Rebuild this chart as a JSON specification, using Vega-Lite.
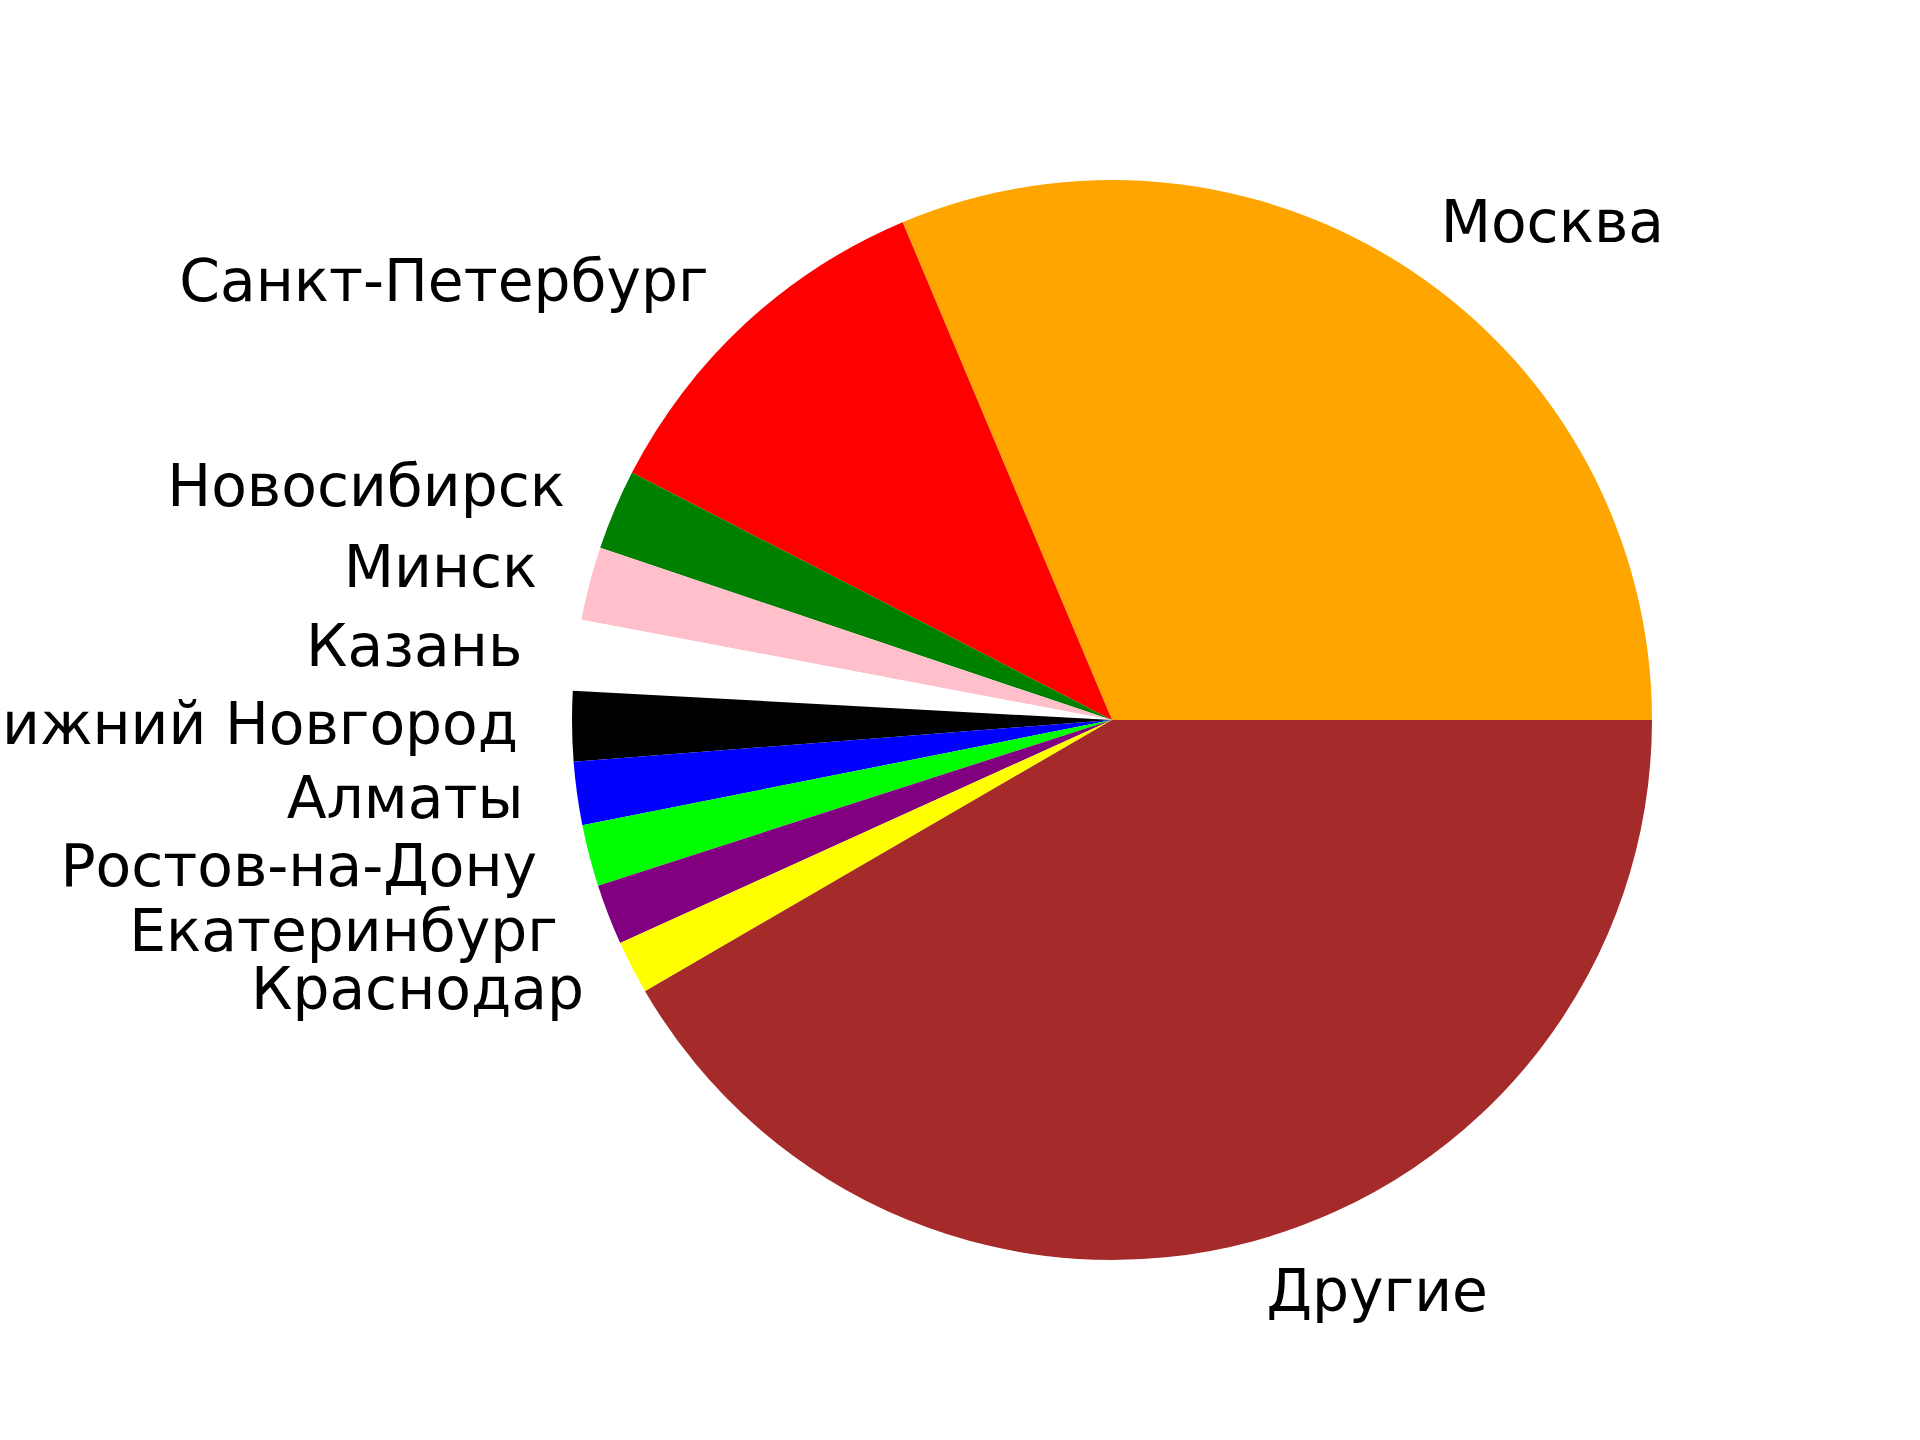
{
  "$schema": "https://vega.github.io/schema/vega-lite/v6.json",
  "width": 1618,
  "height": 1440,
  "padding": {"left": 303, "right": 0, "top": 0, "bottom": 0},
  "autosize": {"type": "none"},
  "background": "white",
  "config": {"view": {"stroke": null}},
  "data": {"values": [
    {"city": "Москва", "value": 31.34},
    {"city": "Санкт-Петербург", "value": 11.09},
    {"city": "Новосибирск", "value": 2.41},
    {"city": "Минск", "value": 2.19},
    {"city": "Казань", "value": 2.11},
    {"city": "Нижний Новгород", "value": 2.10},
    {"city": "Алматы", "value": 1.89},
    {"city": "Ростов-на-Дону", "value": 1.84},
    {"city": "Екатеринбург", "value": 1.81},
    {"city": "Краснодар", "value": 1.60},
    {"city": "Другие", "value": 41.63}
  ]},
  "transform": [{"window": [{"op": "row_number", "as": "idx"}]}],
  "encoding": {
    "theta": {"field": "value", "type": "quantitative", "stack": true,
      "scale": {"range": [1.5707963, -4.712389]}},
    "order": {"field": "idx", "type": "quantitative"}
  },
  "layer": [
    {
      "mark": {"type": "arc", "outerRadius": 540, "strokeWidth": 0},
      "encoding": {
        "color": {"field": "city", "type": "nominal", "legend": null,
          "scale": {
            "domain": ["Москва", "Санкт-Петербург", "Новосибирск", "Минск", "Казань", "Нижний Новгород", "Алматы", "Ростов-на-Дону", "Екатеринбург", "Краснодар", "Другие"],
            "range": ["#FFA500", "#FF0000", "#008000", "#FFC0CB", "#FFFFFF", "#000000", "#0000FF", "#00FF00", "#800080", "#FFFF00", "#A52A2A"]
          }}
      }
    },
    {
      "mark": {"type": "text", "radius": 594, "align": "right", "baseline": "middle", "font": "DejaVu Sans", "fontSize": 58.3, "fill": "black"},
      "encoding": {
        "detail": {"field": "city", "type": "nominal"},
        "text": {"field": "city", "type": "nominal"},
        "opacity": {"condition": {"test": "datum.city === 'Москва' || datum.city === 'Другие'", "value": 0}, "value": 1}
      }
    },
    {
      "mark": {"type": "text", "radius": 594, "align": "left", "baseline": "middle", "font": "DejaVu Sans", "fontSize": 58.3, "fill": "black"},
      "encoding": {
        "detail": {"field": "city", "type": "nominal"},
        "text": {"field": "city", "type": "nominal"},
        "opacity": {"condition": {"test": "datum.city === 'Москва' || datum.city === 'Другие'", "value": 1}, "value": 0}
      }
    }
  ]
}
